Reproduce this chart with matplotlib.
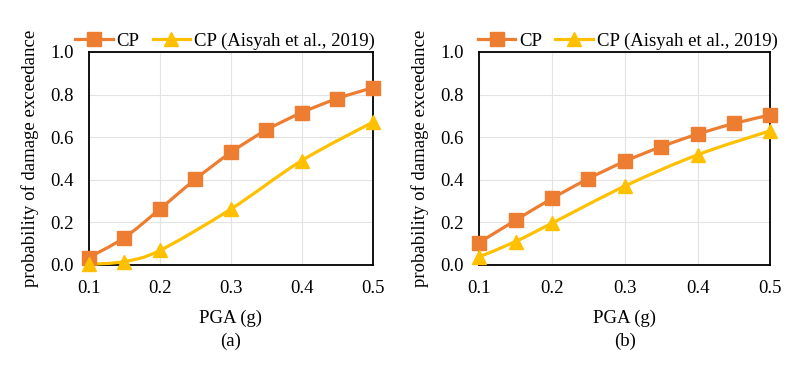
import numpy as np
import matplotlib.pyplot as plt
from matplotlib.path import Path
from matplotlib.patches import PathPatch

plt.rcParams['font.family'] = ['Liberation Serif', 'DejaVu Serif']

pga_cp = [0.10, 0.15, 0.20, 0.25, 0.30, 0.35, 0.40, 0.45, 0.50]
pga_ref = [0.10, 0.15, 0.20, 0.30, 0.40, 0.50]

cp_a = [0.035, 0.128, 0.262, 0.402, 0.528, 0.633, 0.715, 0.781, 0.832]
ref_a = [0.003, 0.016, 0.068, 0.262, 0.490, 0.670]
cp_b = [0.105, 0.210, 0.312, 0.405, 0.486, 0.555, 0.614, 0.664, 0.704]
ref_b = [0.038, 0.110, 0.196, 0.370, 0.517, 0.630]

panels = ['(a)', '(b)']
orange = '#ED7D31'
yellow = '#FFC000'
fs = 13.5


def smooth_path(x, y):
    # Excel-like smoothed line as cubic bezier segments
    p = np.column_stack([x, y])
    n = len(p)
    verts = [p[0]]
    codes = [Path.MOVETO]
    for i in range(n - 1):
        p0 = p[i - 1] if i > 0 else p[i]
        p1 = p[i]
        p2 = p[i + 1]
        p3 = p[i + 2] if i + 2 < n else p[i + 1]
        c1 = p1 + (p2 - p0) / 6
        c2 = p2 - (p3 - p1) / 6
        verts += [c1, c2, p2]
        codes += [Path.CURVE4] * 3
    return Path(verts, codes)


def draw(ax, x, y, color, marker, ms, label):
    ax.add_patch(PathPatch(smooth_path(x, y), facecolor='none',
                           edgecolor=color, lw=2.3, zorder=3, clip_on=False))
    ax.plot(x, y, ls='none', marker=marker, ms=ms, color=color, zorder=4, clip_on=False)
    # legend proxy
    ax.plot([], [], color=color, lw=2.3, marker=marker, ms=ms, label=label)


fig = plt.figure(figsize=(8, 3.68), dpi=100)
positions = [[0.111, 0.28, 0.355, 0.579], [0.599, 0.28, 0.364, 0.579]]
data = [(cp_a, ref_a), (cp_b, ref_b)]
legend_x = [0.48, 0.51]

for pos, (cp, ref), tag, lx in zip(positions, data, panels, legend_x):
    ax = fig.add_axes(pos)
    draw(ax, pga_cp, cp, orange, 's', 9.5, 'CP')
    draw(ax, pga_ref, ref, yellow, '^', 9.5, 'CP (Aisyah et al., 2019)')
    ax.set_xlim(0.1, 0.5)
    ax.set_ylim(0, 1.0)
    ax.set_xticks([0.1, 0.2, 0.3, 0.4, 0.5])
    ax.set_yticks(np.arange(0, 1.01, 0.2))
    ax.xaxis.set_major_formatter(plt.FormatStrFormatter('%.1f'))
    ax.yaxis.set_major_formatter(plt.FormatStrFormatter('%.1f'))
    ax.grid(True, color='#E3E3E3', lw=0.8)
    ax.set_axisbelow(True)
    for s in ax.spines.values():
        s.set_linewidth(1.3)
        s.set_color('black')
    ax.tick_params(axis='x', length=0, labelsize=fs, pad=11)
    ax.tick_params(axis='y', length=0, labelsize=fs, pad=11)
    ax.set_xlabel('PGA (g)\n' + tag, fontsize=fs, labelpad=9, linespacing=1.45)
    ax.set_ylabel('probability of damage exceedance', fontsize=fs, labelpad=8)
    ax.legend(loc='lower center', bbox_to_anchor=(lx, 0.975), ncol=2, frameon=False,
              fontsize=fs, handlelength=2.0, columnspacing=0.7, handletextpad=0.2,
              borderaxespad=0.0)

fig.savefig('out.png', dpi=100)
